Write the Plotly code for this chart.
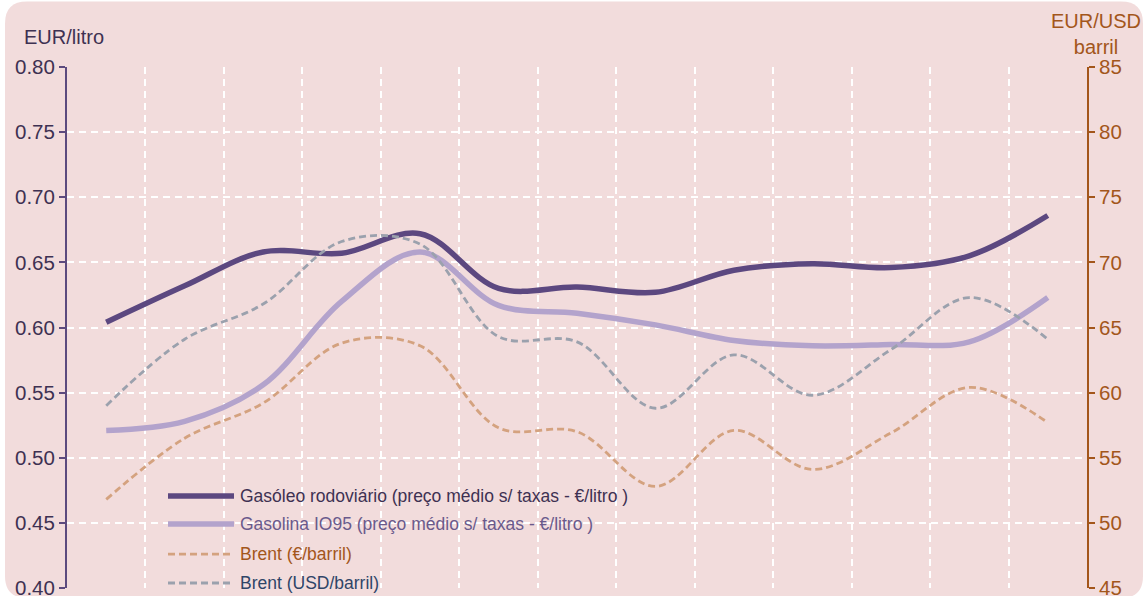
import plotly.graph_objects as go

# ---------------- data ----------------
months = ["jan-19", "fev-19", "mar-19", "abr-19", "mai-19", "jun-19", "jul-19",
          "ago-19", "set-19", "out-19", "nov-19", "dez-19", "jan-20"]
gasoleo = [0.604, 0.632, 0.658, 0.657, 0.672, 0.630, 0.631, 0.627, 0.644, 0.649, 0.646, 0.655, 0.686]
gasolina = [0.521, 0.528, 0.556, 0.620, 0.658, 0.617, 0.611, 0.602, 0.590, 0.586, 0.587, 0.589, 0.623]
brent_eur = [51.8, 56.5, 59.2, 63.8, 63.6, 57.3, 57.0, 52.8, 57.1, 54.1, 56.9, 60.4, 57.7]
brent_usd = [59.0, 64.1, 66.8, 71.6, 71.4, 64.3, 63.9, 58.8, 62.9, 59.8, 63.3, 67.3, 64.1]

series_names = [
    "Gasóleo rodoviário (preço médio s/ taxas - €/litro )",
    "Gasolina IO95 (preço médio s/ taxas - €/litro )",
    "Brent (€/barril)",
    "Brent (USD/barril)",
]
left_title = "EUR/litro"
right_title = "EUR/USD<br>barril"

# ---------------- styles ----------------
C_GASOLEO = "#5c4880"
C_GASOLINA = "#b3a3cc"
C_BRENT_EUR = "#d4a27f"
C_BRENT_USD = "#9ba1ad"
TXT_COLORS = ["#3e3152", "#6a5a8c", "#a3561b", "#2f4568"]
C_LEFT = "#3e3152"
C_RIGHT = "#a3561b"
BG = "#f2dcdc"
FONT = "Liberation Sans, Arial, sans-serif"
DASH = "7px,4px"

W, H = 1146, 596
L, R, T, B = 67, 1087, 66.5, 588

def px2x(px):
    return (px - L) / (R - L)

def px2y(py):
    return (B - py) / (B - T)

fig = go.Figure()

fig.add_trace(go.Scatter(x=months, y=brent_eur, yaxis="y2", mode="lines",
                         line=dict(color=C_BRENT_EUR, width=2.8, dash=DASH, shape="spline", smoothing=1.0),
                         name=series_names[2], showlegend=False))
fig.add_trace(go.Scatter(x=months, y=brent_usd, yaxis="y2", mode="lines",
                         line=dict(color=C_BRENT_USD, width=2.8, dash=DASH, shape="spline", smoothing=1.0),
                         name=series_names[3], showlegend=False))
fig.add_trace(go.Scatter(x=months, y=gasolina, mode="lines",
                         line=dict(color=C_GASOLINA, width=5.5, shape="spline", smoothing=1.0),
                         name=series_names[1], showlegend=False))
fig.add_trace(go.Scatter(x=months, y=gasoleo, mode="lines",
                         line=dict(color=C_GASOLEO, width=5.5, shape="spline", smoothing=1.0),
                         name=series_names[0], showlegend=False))

# rounded background
x0, x1, y0, y1, r = 5, 1143, 1, 598, 22
def P(px, py):
    return f"{px2x(px):.5f},{px2y(py):.5f}"
path = (f"M {P(x0 + r, y0)} L {P(x1 - r, y0)} Q {P(x1, y0)} {P(x1, y0 + r)} "
        f"L {P(x1, y1 - r)} Q {P(x1, y1)} {P(x1 - r, y1)} L {P(x0 + r, y1)} "
        f"Q {P(x0, y1)} {P(x0, y1 - r)} L {P(x0, y0 + r)} Q {P(x0, y0)} {P(x0 + r, y0)} Z")
shapes = [dict(type="path", xref="paper", yref="paper", path=path,
               fillcolor=BG, line=dict(width=0), layer="below")]

# manual legend
leg_rows = [496, 524, 554, 583]
leg_styles = [
    dict(color=C_GASOLEO, width=5.5, dash="solid"),
    dict(color=C_GASOLINA, width=5.5, dash="solid"),
    dict(color=C_BRENT_EUR, width=2.8, dash=DASH),
    dict(color=C_BRENT_USD, width=2.8, dash=DASH),
]
annotations = []
for name, row, st, tc in zip(series_names, leg_rows, leg_styles, TXT_COLORS):
    shapes.append(dict(type="line", xref="paper", yref="paper",
                       x0=px2x(168), x1=px2x(234), y0=px2y(row), y1=px2y(row),
                       line=st, layer="above"))
    annotations.append(dict(xref="paper", yref="paper", x=px2x(238), y=px2y(row),
                            xanchor="left", yanchor="middle", showarrow=False,
                            text=name, font=dict(family=FONT, size=17.5, color=tc)))

annotations.append(dict(xref="paper", yref="paper", x=px2x(22), y=px2y(36),
                        xanchor="left", yanchor="middle", showarrow=False,
                        text=left_title, font=dict(family=FONT, size=20, color=C_LEFT)))
annotations.append(dict(xref="paper", yref="paper", x=px2x(1143), y=px2y(33),
                        xanchor="right", yanchor="middle", showarrow=False, align="center",
                        text=right_title, font=dict(family=FONT, size=20, color=C_RIGHT)))

fig.update_layout(
    width=W, height=H,
    margin=dict(l=L, r=W - R, t=T, b=H - B, pad=0, autoexpand=False),
    paper_bgcolor="white",
    plot_bgcolor="rgba(0,0,0,0)",
    font=dict(family=FONT),
    showlegend=False,
    shapes=shapes,
    annotations=annotations,
    xaxis=dict(type="category", range=[-0.5, 12.5], tickson="boundaries",
               showticklabels=False, ticks="", showline=False, automargin=False,
               showgrid=True, gridcolor="white", gridwidth=1.5, griddash="7px,5px",
               zeroline=False),
    yaxis=dict(range=[0.40, 0.80], dtick=0.05, tickformat=".2f", automargin=False,
               showgrid=True, gridcolor="white", gridwidth=1.5, griddash="7px,5px",
               zeroline=False, showline=True, linecolor="#5c4a7e", linewidth=2,
               ticks="outside", ticklen=6, tickwidth=2, tickcolor="#5c4a7e",
               ticklabeloverflow="allow",
               tickfont=dict(family=FONT, size=20.5, color=C_LEFT)),
    yaxis2=dict(range=[45, 85], dtick=5, overlaying="y", side="right", automargin=False,
                showgrid=False, zeroline=False, showline=True, linecolor=C_RIGHT, linewidth=2,
                ticks="outside", ticklen=6, tickwidth=2, tickcolor=C_RIGHT,
                ticklabeloverflow="allow",
                tickfont=dict(family=FONT, size=20.5, color=C_RIGHT)),
)

fig.write_html("out.html",
               config={"displayModeBar": False},
               post_script="document.body.style.margin='0';document.body.style.overflow='hidden';")
